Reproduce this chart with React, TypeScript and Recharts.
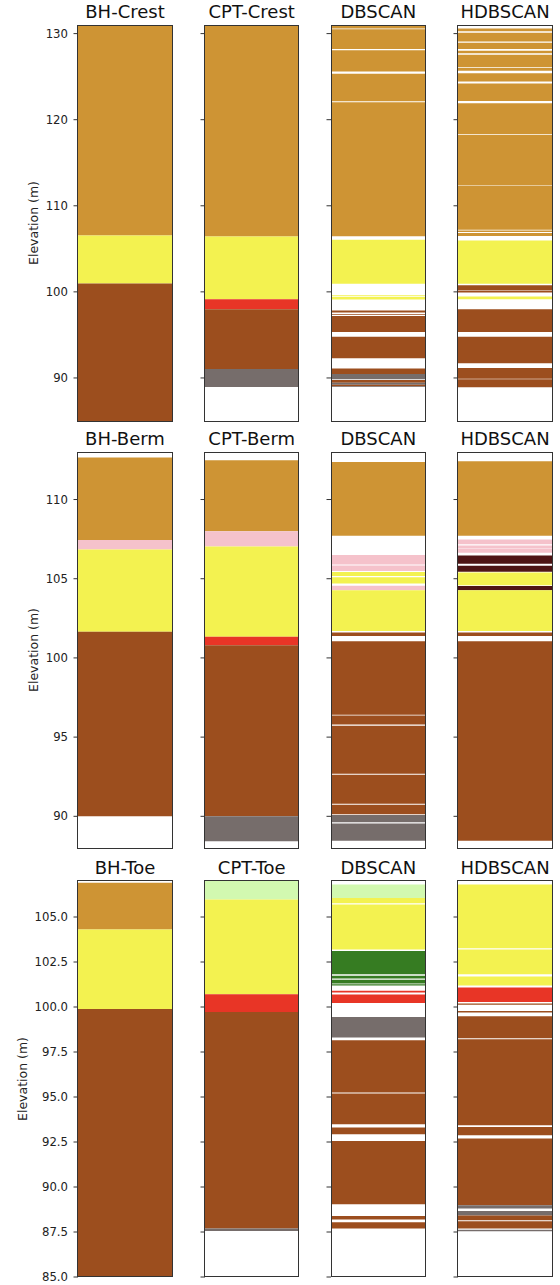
import React from 'react';
import { BarChart, Bar, XAxis, YAxis, Cell } from 'recharts';

// Soil unit fill colours
const UNIT_COLORS: Record<string, string> = {
  tan: '#CE9434',
  yel: '#F3F250',
  brn: '#9C4E1E',
  red: '#E83526',
  gry: '#766D6B',
  pnk: '#F5C2CB',
  lgr: '#D2F9B0',
  dgr: '#367C22',
  mar: '#4E1515',
};

// Each layer: [top elevation, bottom elevation, unit]
type Layer = [number, number, string];

const columnTitles = [
  ['BH-Crest', 'CPT-Crest', 'DBSCAN', 'HDBSCAN'],
  ['BH-Berm', 'CPT-Berm', 'DBSCAN', 'HDBSCAN'],
  ['BH-Toe', 'CPT-Toe', 'DBSCAN', 'HDBSCAN'],
];

// ---- Crest ----
const bhCrest: Layer[] = [
  [131, 106.55, 'tan'],
  [106.55, 100.97, 'yel'],
  [100.97, 85, 'brn'],
];
const cptCrest: Layer[] = [
  [131, 106.43, 'tan'],
  [106.43, 99.15, 'yel'],
  [99.15, 97.98, 'red'],
  [97.98, 91.05, 'brn'],
  [91.05, 88.95, 'gry'],
];
const dbscanCrest: Layer[] = [
  [131, 130.6, 'tan'],
  [130.5, 128.2, 'tan'],
  [128.06, 125.6, 'tan'],
  [125.35, 122.15, 'tan'],
  [122.03, 106.45, 'tan'],
  [106.05, 100.95, 'yel'],
  [99.65, 99.55, 'yel'],
  [99.42, 99.1, 'yel'],
  [97.85, 97.6, 'brn'],
  [97.42, 97.35, 'brn'],
  [97.2, 95.35, 'brn'],
  [94.8, 92.3, 'brn'],
  [91.1, 90.47, 'brn'],
  [90.47, 89.85, 'gry'],
  [89.75, 89.45, 'brn'],
  [89.45, 89.2, 'gry'],
  [89.2, 89.05, 'brn'],
  [89.05, 88.95, 'gry'],
];
const hdbscanCrest: Layer[] = [
  [130.6, 130.27, 'tan'],
  [130.1, 129.07, 'tan'],
  [128.95, 128.2, 'tan'],
  [128.0, 127.72, 'tan'],
  [127.55, 126.1, 'tan'],
  [126.0, 125.7, 'tan'],
  [125.4, 124.45, 'tan'],
  [124.2, 122.17, 'tan'],
  [121.9, 118.3, 'tan'],
  [118.22, 112.37, 'tan'],
  [112.29, 107.22, 'tan'],
  [107.12, 106.95, 'tan'],
  [106.85, 106.5, 'tan'],
  [105.97, 100.93, 'yel'],
  [100.78, 100.17, 'brn'],
  [100.1, 99.92, 'brn'],
  [99.45, 99.15, 'yel'],
  [97.98, 95.35, 'brn'],
  [94.8, 91.7, 'brn'],
  [91.16, 89.92, 'brn'],
  [89.84, 88.92, 'brn'],
];

// ---- Berm ----
const bhBerm: Layer[] = [
  [112.65, 107.44, 'tan'],
  [107.44, 106.85, 'pnk'],
  [106.85, 101.66, 'yel'],
  [101.66, 90.0, 'brn'],
];
const cptBerm: Layer[] = [
  [112.48, 108.0, 'tan'],
  [108.0, 107.04, 'pnk'],
  [107.04, 101.33, 'yel'],
  [101.33, 100.8, 'red'],
  [100.8, 90.0, 'brn'],
  [90.0, 88.43, 'gry'],
];
const dbscanBerm: Layer[] = [
  [112.37, 107.72, 'tan'],
  [106.49, 105.9, 'pnk'],
  [105.84, 105.48, 'pnk'],
  [105.42, 105.17, 'yel'],
  [105.1, 104.7, 'yel'],
  [104.56, 104.27, 'pnk'],
  [104.27, 101.7, 'yel'],
  [101.6, 101.39, 'brn'],
  [101.05, 96.42, 'brn'],
  [96.36, 95.8, 'brn'],
  [95.72, 92.68, 'brn'],
  [92.62, 90.79, 'brn'],
  [90.73, 90.13, 'brn'],
  [90.08, 89.63, 'gry'],
  [89.55, 88.45, 'gry'],
];
const hdbscanBerm: Layer[] = [
  [112.41, 107.72, 'tan'],
  [107.48, 107.18, 'pnk'],
  [107.1, 106.93, 'pnk'],
  [106.9, 106.64, 'pnk'],
  [106.47, 105.95, 'mar'],
  [105.82, 105.44, 'mar'],
  [105.4, 104.58, 'yel'],
  [104.54, 104.27, 'mar'],
  [104.27, 101.7, 'yel'],
  [101.6, 101.39, 'brn'],
  [101.05, 88.45, 'brn'],
];

// ---- Toe ----
const bhToe: Layer[] = [
  [106.9, 104.3, 'tan'],
  [104.3, 99.89, 'yel'],
  [99.89, 85, 'brn'],
];
const cptToe: Layer[] = [
  [107, 105.97, 'lgr'],
  [105.97, 100.71, 'yel'],
  [100.71, 99.72, 'red'],
  [99.72, 87.69, 'brn'],
  [87.69, 87.56, 'gry'],
];
const dbscanToe: Layer[] = [
  [106.8, 106.06, 'lgr'],
  [106.06, 105.76, 'yel'],
  [105.69, 103.2, 'yel'],
  [103.11, 101.82, 'dgr'],
  [101.73, 101.58, 'dgr'],
  [101.52, 101.3, 'dgr'],
  [101.27, 101.2, 'dgr'],
  [100.9, 100.8, 'red'],
  [100.7, 100.22, 'red'],
  [99.44, 98.3, 'gry'],
  [98.15, 95.25, 'brn'],
  [95.19, 93.48, 'brn'],
  [93.3, 92.93, 'brn'],
  [92.56, 89.04, 'brn'],
  [88.39, 88.19, 'brn'],
  [88.04, 87.7, 'brn'],
];
const hdbscanToe: Layer[] = [
  [106.8, 103.26, 'yel'],
  [103.2, 101.82, 'yel'],
  [101.7, 101.2, 'yel'],
  [101.09, 100.28, 'red'],
  [100.2, 100.12, 'brn'],
  [99.78, 99.7, 'brn'],
  [99.48, 98.26, 'brn'],
  [98.21, 93.43, 'brn'],
  [93.33, 92.87, 'brn'],
  [92.7, 88.98, 'brn'],
  [88.98, 88.8, 'gry'],
  [88.67, 88.41, 'gry'],
  [88.41, 88.15, 'brn'],
  [88.1, 87.7, 'brn'],
  [87.63, 87.54, 'gry'],
];

const crestColumns = [bhCrest, cptCrest, dbscanCrest, hdbscanCrest];
const bermColumns = [bhBerm, cptBerm, dbscanBerm, hdbscanBerm];
const toeColumns = [bhToe, cptToe, dbscanToe, hdbscanToe];

const crestDomain: [number, number] = [85, 131];
const bermDomain: [number, number] = [88, 113];
const toeDomain: [number, number] = [85, 107];

const crestTicks = [90, 100, 110, 120, 130];
const bermTicks = [90, 95, 100, 105, 110];
const toeTicks = [85, 87.5, 90, 92.5, 95, 97.5, 100, 102.5, 105];

const FONT = '"DejaVu Sans", sans-serif';
const PLOT_W = 94;
const PLOT_H = 396;
const PAD = 10; // room above/below the plot so edge tick labels are not clipped
const COL_LEFT = [78, 204.7, 331.3, 458];

interface RowSpec {
  top: number;
  columns: Layer[][];
  domain: [number, number];
  ticks: number[];
  fmt: (v: number) => string;
  labelX: number;
}

const rows: RowSpec[] = [
  { top: 25.4, columns: crestColumns, domain: crestDomain, ticks: crestTicks, fmt: (v) => String(v), labelX: 33 },
  { top: 452.4, columns: bermColumns, domain: bermDomain, ticks: bermTicks, fmt: (v) => String(v), labelX: 33 },
  { top: 880.7, columns: toeColumns, domain: toeDomain, ticks: toeTicks, fmt: (v) => v.toFixed(1), labelX: 21.7 },
];

function Panel(props: {
  layers: Layer[];
  domain: [number, number];
  ticks: number[];
  fmt: (v: number) => string;
  left: number;
  top: number;
  showLabels: boolean;
  title: string;
}) {
  const { layers, domain, ticks, fmt, left, top, showLabels, title } = props;
  const axisW = showLabels ? 78 : 12;
  const data = layers.map(([hi, lo, unit]) => ({ x: 0.5, span: [lo, hi], unit }));
  return (
    <>
      <div
        style={{
          position: 'absolute',
          left,
          top: top - 22,
          width: PLOT_W,
          textAlign: 'center',
          fontFamily: FONT,
          fontSize: 18,
          lineHeight: '18px',
          color: '#111',
          whiteSpace: 'nowrap',
        }}
      >
        {title}
      </div>
      <div style={{ position: 'absolute', left: left - axisW, top: top - PAD }}>
        <BarChart
          width={axisW + PLOT_W}
          height={PLOT_H + 2 * PAD}
          data={data}
          margin={{ top: PAD, right: 0, bottom: PAD, left: 0 }}
        >
          <XAxis type="number" dataKey="x" domain={[0, 1]} ticks={[0.5]} hide />
          <YAxis
            type="number"
            domain={domain}
            ticks={ticks}
            allowDataOverflow
            width={axisW}
            axisLine={false}
            tickSize={4.5}
            tickMargin={5.5}
            tickLine={{ stroke: '#333', strokeWidth: 1 }}
            tick={{ fill: '#222', fontSize: 11.7, fontFamily: FONT }}
            tickFormatter={(v: number) => (showLabels ? fmt(v) : '')}
            interval={0}
          />
          <Bar dataKey="span" barSize={PLOT_W} isAnimationActive={false}>
            {data.map((d, i) => (
              <Cell key={i} fill={UNIT_COLORS[d.unit]} />
            ))}
          </Bar>
        </BarChart>
      </div>
      <div
        style={{
          position: 'absolute',
          left: left - 0.6,
          top: top - 0.6,
          width: PLOT_W + 1.2,
          height: PLOT_H + 1.2,
          boxSizing: 'border-box',
          border: '1.2px solid #333',
          pointerEvents: 'none',
        }}
      />
    </>
  );
}

export default function App() {
  return (
    <div style={{ position: 'absolute', left: 0, top: 0, width: 560, height: 1285, background: '#fff' }}>
      {rows.map((row, r) => (
        <React.Fragment key={r}>
          <div
            style={{
              position: 'absolute',
              left: row.labelX,
              top: row.top + PLOT_H / 2,
              transform: 'translate(-50%, -50%) rotate(-90deg)',
              fontFamily: FONT,
              fontSize: 12.5,
              color: '#222',
              whiteSpace: 'nowrap',
            }}
          >
            Elevation (m)
          </div>
          {row.columns.map((layers, c) => (
            <Panel
              key={c}
              layers={layers}
              domain={row.domain}
              ticks={row.ticks}
              fmt={row.fmt}
              left={COL_LEFT[c]}
              top={row.top}
              showLabels={c === 0}
              title={columnTitles[r][c]}
            />
          ))}
        </React.Fragment>
      ))}
    </div>
  );
}
